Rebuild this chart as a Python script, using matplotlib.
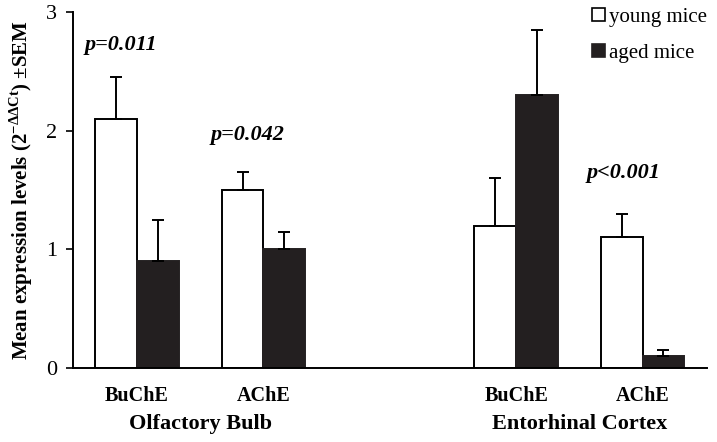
import matplotlib
matplotlib.use("Agg")
import matplotlib.pyplot as plt
import numpy as np
from matplotlib.patches import Patch
from matplotlib.transforms import blended_transform_factory

plt.rcParams["font.family"] = ["Liberation Serif", "DejaVu Serif"]
plt.rcParams["mathtext.fontset"] = "custom"
plt.rcParams["mathtext.rm"] = "Liberation Serif"

# Data
enzymes = ["BuChE", "AChE", "BuChE", "AChE"]
regions = ["Olfactory Bulb", "Entorhinal Cortex"]
young = [2.10, 1.50, 1.20, 1.10]
young_sem = [0.35, 0.15, 0.40, 0.20]
aged = [0.90, 1.00, 2.30, 0.10]
aged_sem = [0.35, 0.15, 0.55, 0.05]
pvals = ["p=0.011", "p=0.042", "p<0.001"]
p_x = [-0.13, 0.87, 3.85]
p_y = [2.72, 1.96, 1.64]

pos = np.array([0, 1, 3, 4])
width = 0.332

fig = plt.figure(figsize=(7.17, 4.42), dpi=100)
ax = fig.add_axes([0.1014, 0.1674, 0.8846, 0.8055])

err_kw = dict(ecolor="black", elinewidth=1.4, capsize=4, capthick=1.4)
ax.bar(pos - width / 2, young, width, color="white", edgecolor="black",
       linewidth=1.4, yerr=[np.zeros(4), young_sem], error_kw=err_kw, zorder=2)
ax.bar(pos + width / 2, aged, width, color="#231f20", edgecolor="#231f20",
       linewidth=1.4, yerr=[np.zeros(4), aged_sem], error_kw=err_kw, zorder=2)

# p-value annotations
for x, y, p in zip(p_x, p_y, pvals):
    ax.text(x, y, p, fontsize=16, fontweight="bold", style="italic",
            ha="center", va="center")

ax.set_xlim(-0.51, 4.51)
ax.set_ylim(0, 3)
ax.set_yticks([0, 1, 2, 3])
ax.tick_params(axis="y", labelsize=16, length=5, width=1.2, direction="out",
               pad=6)
ax.set_xticks(pos)
ax.set_xticklabels(enzymes, fontsize=14.5, fontweight="bold")
ax.tick_params(axis="x", length=0, pad=13)
for side in ["top", "right"]:
    ax.spines[side].set_visible(False)
for side in ["left", "bottom"]:
    ax.spines[side].set_linewidth(1.4)

# group labels under the enzyme labels
trans = blended_transform_factory(ax.transData, ax.transAxes)
ax.text(0.5, -0.158, regions[0], transform=trans, fontsize=16,
        fontweight="bold", ha="center", va="center")
ax.text(3.5, -0.158, regions[1], transform=trans, fontsize=16,
        fontweight="bold", ha="center", va="center")

ax.set_ylabel(r"Mean expression levels (2$^{\mathregular{-ΔΔCt}}$) ±SEM",
              fontsize=15, fontweight="bold", labelpad=8)

handles = [Patch(facecolor="white", edgecolor="black", linewidth=1.2),
           Patch(facecolor="#231f20", edgecolor="#231f20", linewidth=1.2)]
ax.legend(handles, ["young mice", "aged mice"], loc="upper right",
          bbox_to_anchor=(1.03, 1.065), frameon=False, fontsize=15,
          handlelength=0.65, handleheight=0.65, handletextpad=0.2,
          labelspacing=0.8)

fig.savefig("out.png", dpi=100)
